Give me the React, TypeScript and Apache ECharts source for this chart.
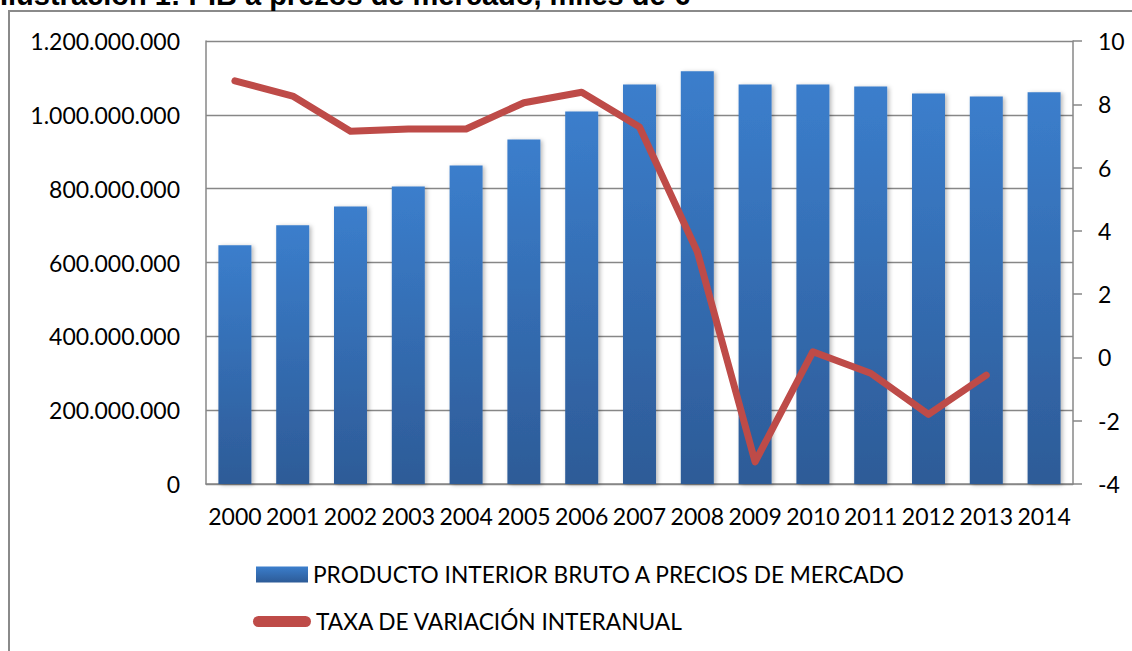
import React, { useEffect, useRef } from "react";
import * as echarts from "echarts";

const years = ["2000", "2001", "2002", "2003", "2004", "2005", "2006", "2007", "2008", "2009", "2010", "2011", "2012", "2013", "2014"];
const gdp = [647000000, 701000000, 752000000, 806000000, 863000000, 933000000, 1009000000, 1082000000, 1118000000, 1082000000, 1082000000, 1077000000, 1058000000, 1050000000, 1061000000];
const growth: (number | null)[] = [8.74, 8.26, 7.15, 7.22, 7.22, 8.05, 8.38, 7.28, 3.34, -3.3, 0.18, -0.5, -1.8, -0.56, null];
const titleText = "Ilustración 1: PIB a prezos de mercado, miles de €";
const barName = "PRODUCTO INTERIOR BRUTO A PRECIOS DE MERCADO";
const lineName = "TAXA DE VARIACIÓN INTERANUAL";

const FONT = "Lato";
const fmt = (v: number) => String(Math.round(v)).replace(/\B(?=(\d{3})+(?!\d))/g, ".");

export default function App() {
  const ref = useRef<HTMLDivElement>(null);
  useEffect(() => {
    if (!ref.current) return;
    const chart = echarts.init(ref.current, undefined, { renderer: "svg" });
    const axisGray = "#878787";
    chart.setOption({
      animation: false,
      backgroundColor: "#ffffff",
      textStyle: { fontFamily: FONT },
      grid: { left: 206, right: 59, top: 41, bottom: 167, containLabel: false },
      graphic: [
        {
          type: "rect",
          shape: { x: 9, y: 11, width: 1200, height: 700 },
          style: { fill: "none", stroke: "#8a8a8a", lineWidth: 2 },
          silent: true,
        },
        {
          type: "text",
          x: 0,
          y: -5.5,
          style: {
            text: titleText,
            font: "bold 29px 'Liberation Sans', Arial, sans-serif",
            fill: "#000",
            verticalAlign: "middle",
            align: "left",
          },
          silent: true,
        },
      ],
      legend: [
        {
          left: 256,
          top: 563,
          padding: 0,
          itemWidth: 52,
          itemHeight: 16,
          textStyle: { fontFamily: FONT, fontSize: 22.7, color: "#000" },
          data: [{ name: barName, icon: "rect" }],
        },
        {
          left: 253,
          top: 610,
          padding: 0,
          itemWidth: 58,
          itemHeight: 11,
          textStyle: { fontFamily: FONT, fontSize: 22.7, color: "#000" },
          data: [
            {
              name: lineName,
              icon: "path://M5.5,0 L52.5,0 A5.5,5.5 0 0 1 52.5,11 L5.5,11 A5.5,5.5 0 0 1 5.5,0 Z",
              itemStyle: { color: "#BE4B48", borderWidth: 0 },
            },
          ],
        },
      ],
      xAxis: {
        type: "category",
        data: years,
        axisLine: { show: true, lineStyle: { color: axisGray, width: 1.5 } },
        axisTick: { show: false },
        axisLabel: { interval: 0, margin: 20, fontSize: 23, color: "#000", fontFamily: FONT },
      },
      yAxis: [
        {
          type: "value",
          min: 0,
          max: 1200000000,
          interval: 200000000,
          axisLine: { show: true, lineStyle: { color: axisGray, width: 1.5 } },
          axisTick: { show: false },
          splitLine: { show: true, lineStyle: { color: axisGray, width: 1.3 } },
          axisLabel: { margin: 26, fontSize: 23, color: "#000", fontFamily: FONT, formatter: (v: number) => fmt(v) },
        },
        {
          type: "value",
          position: "right",
          min: -4,
          max: 10,
          interval: 2,
          axisLine: { show: true, lineStyle: { color: axisGray, width: 1.5 } },
          axisTick: { show: true, inside: false, length: 9, lineStyle: { color: axisGray, width: 1.5 } },
          splitLine: { show: false },
          axisLabel: { margin: 25, fontSize: 23, color: "#000", fontFamily: FONT },
        },
      ],
      series: [
        {
          name: barName,
          type: "bar",
          yAxisIndex: 0,
          data: gdp,
          barWidth: 33,
          itemStyle: {
            color: new echarts.graphic.LinearGradient(0, 0, 0, 1, [
              { offset: 0, color: "#3B7ECC" },
              { offset: 1, color: "#2D5B97" },
            ]),
            shadowColor: "rgba(0,0,0,0.28)",
            shadowBlur: 4,
            shadowOffsetX: 2,
            shadowOffsetY: 1,
          },
        },
        {
          name: lineName,
          type: "line",
          yAxisIndex: 1,
          data: growth,
          symbol: "none",
          connectNulls: false,
          z: 5,
          lineStyle: { color: "#BE4B48", width: 7, cap: "round", join: "round" },
          itemStyle: { color: "#BE4B48" },
        },
      ],
    });
    return () => chart.dispose();
  }, []);
  return (
    <div
      ref={ref}
      style={{ position: "fixed", left: 0, top: 0, width: 1132, height: 651, background: "#fff" }}
    />
  );
}
